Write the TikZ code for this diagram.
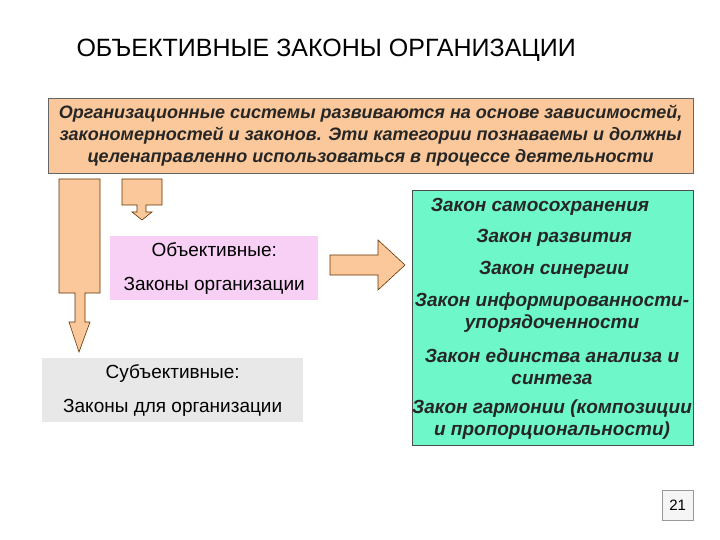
\documentclass[tikz,border=0pt]{standalone}
\usepackage{fontspec}
\setmainfont{Liberation Sans}
\begin{document}
\begin{tikzpicture}[x=1pt,y=-1pt,
  txt/.style={font=\fontsize{19}{25}\selectfont\bfseries\itshape, align=center, text=black!85},
  txt2/.style={font=\fontsize{19}{22}\selectfont\bfseries\itshape, align=center, text=black!85}]
\definecolor{org}{HTML}{FAC89A}
\definecolor{pinkf}{HTML}{F8D0F6}
\definecolor{grayf}{HTML}{E8E8E8}
\definecolor{greenf}{HTML}{6EF7C8}
\useasboundingbox (0,0) rectangle (720,540);
\fill[white] (0,0) rectangle (720,540);
\node[anchor=west, font=\fontsize{25}{28}\selectfont] (title) at (73,50) {ОБЪЕКТИВНЫЕ ЗАКОНЫ ОРГАНИЗАЦИИ};
\node[fill=org, draw=black!60, minimum width=645, minimum height=75, anchor=north west, inner sep=0, font=\fontsize{18}{22}\selectfont\bfseries\itshape, align=center, text=black!85] (top) at (48,98)
 {Организационные системы развиваются на основе зависимостей,\\закономерностей и законов. Эти категории познаваемы и должны\\целенаправленно использоваться в процессе деятельности};
% left big arrow
\draw[fill=org, draw=black!60!orange, line width=0.6pt] (59,179) -- (100,179) -- (100,293) -- (85,293) -- (85,322) -- (90,322) -- (79,352) -- (69,322) -- (75,322) -- (75,293) -- (59,293) -- cycle;
% small arrow
\draw[fill=org, draw=black!60!orange, line width=0.6pt] (122,179) -- (162,179) -- (162,205) -- (146,205) -- (146,212) -- (152,212) -- (142,220) -- (132,212) -- (137,212) -- (137,205) -- (122,205) -- cycle;
\node[fill=pinkf, minimum width=208, minimum height=64, anchor=north west, inner sep=0, font=\fontsize{19}{34}\selectfont, align=center] (obj) at (110,236) {Объективные:\\Законы организации};
\node[fill=grayf, minimum width=261, minimum height=64, anchor=north west, inner sep=0, font=\fontsize{19}{34}\selectfont, align=center] (subj) at (42,358) {Субъективные:\\Законы для организации};
\node[fill=greenf, draw=black!70, line width=0.6pt, minimum width=281, minimum height=255, anchor=north west, inner sep=0] (laws) at (412,190) {};
\draw[fill=org, draw=black!60!orange, line width=0.6pt] (330,255) -- (378,255) -- (378,240) -- (405,265) -- (378,290) -- (378,275) -- (330,275) -- cycle;
\node[txt] (l1) at (540,207) {Закон самосохранения};
\node[txt] (l2) at (554,238) {Закон развития};
\node[txt] (l3) at (554,270) {Закон синергии};
\node[txt2] (l4) at (552,313) {Закон информированности-\\упорядоченности};
\node[txt2] (l5) at (552,367) {Закон единства анализа и\\синтеза};
\node[txt2] (l6) at (552,420) {Закон гармонии (композиции\\и пропорциональности)};
\node[draw=black!40, fill=black!4, minimum width=31, minimum height=30, anchor=north west, inner sep=0, font=\fontsize{15}{17}\selectfont] (pg) at (662,490) {21};
\end{tikzpicture}
\end{document}
